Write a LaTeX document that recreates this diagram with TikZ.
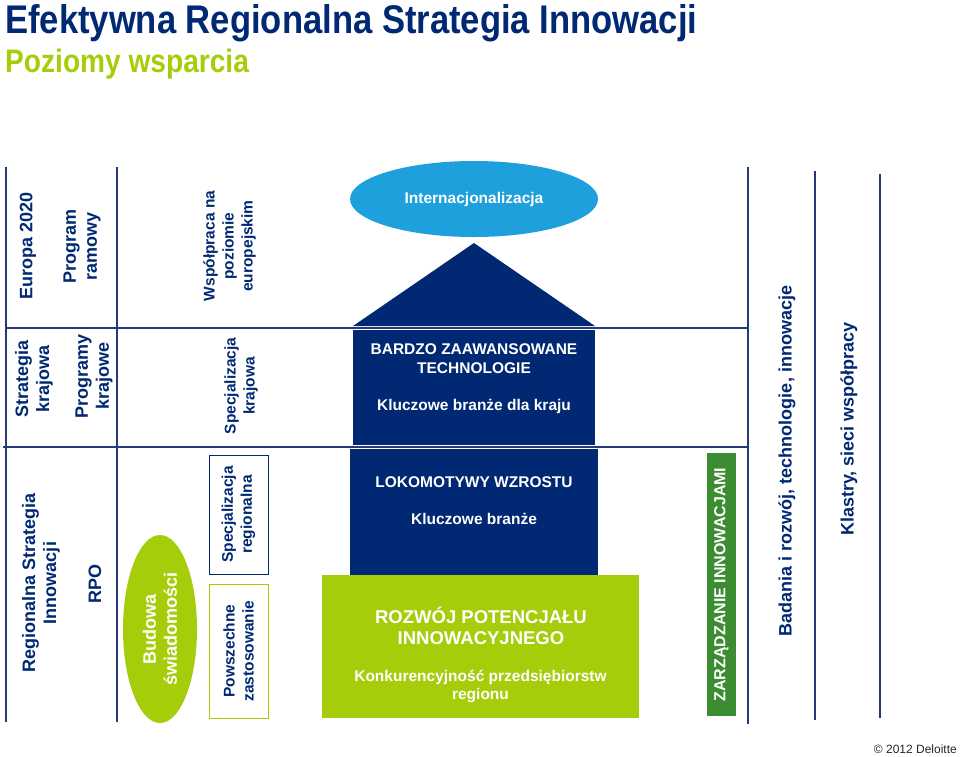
\documentclass[tikz,border=0pt]{standalone}
\usepackage{fontspec}
\setmainfont{Liberation Sans}
\newfontfamily\narrowfont[FakeStretch=0.865]{Liberation Sans}
\usetikzlibrary{shapes.geometric}
\definecolor{navy}{RGB}{0,40,115}
\definecolor{rulecol}{RGB}{38,58,122}
\definecolor{lime}{RGB}{165,205,10}
\definecolor{skyblue}{RGB}{30,160,220}
\definecolor{zgreen}{RGB}{60,140,50}

\begin{document}
\begin{tikzpicture}[x=1pt,y=-1pt]
      \tikzstyle{every node}+=[inner sep=0pt]
      \tikzstyle{vlabel}=[rotate=90,align=center,text=navy,font=\bfseries\fontsize{18}{21}\selectfont]
      \tikzstyle{slabel}=[rotate=90,align=center,text=navy,font=\bfseries\fontsize{15.5}{19}\selectfont]
      \tikzstyle{hlabel}=[align=center,text=white,font=\bfseries\fontsize{15.5}{19}\selectfont]
      \tikzstyle{rule}=[rulecol,line width=1.6pt]
      \useasboundingbox (0,0) rectangle (960,756);
      \node [anchor=base west,text=navy,font=\narrowfont\bfseries\fontsize{40}{44}\selectfont] (title) at (5,33) {Efektywna Regionalna Strategia Innowacji};
      \node [anchor=base west,text=lime,font=\narrowfont\bfseries\fontsize{32.5}{36}\selectfont] (subtitle) at (5,72) {Poziomy wsparcia};
      % house
      \node [ellipse,fill=skyblue,minimum width=248pt,minimum height=76pt,text=white,font=\bfseries\fontsize{15.5}{19}\selectfont] (intl) at (474,199) {Internacjonalizacja};
      \fill [navy] (474,243) -- (353,326) -- (595,326) -- cycle;
      \node [fill=navy,minimum width=242pt,minimum height=115pt] (tech) at (474,387.5) {};
      \node [fill=navy,minimum width=248pt,minimum height=126pt] (loko) at (474,512) {};
      \node [fill=lime,minimum width=317pt,minimum height=143pt] (potencjal) at (480.5,646.5) {};
      \node [hlabel] (techtxt) at (474,358.5) {BARDZO ZAAWANSOWANE\\TECHNOLOGIE};
      \node [hlabel] (krajtxt) at (474,406) {Kluczowe branże dla kraju};
      \node [hlabel] (lokotxt) at (474,482) {LOKOMOTYWY WZROSTU};
      \node [hlabel] (branzetxt) at (474,519) {Kluczowe branże};
      \node [hlabel,font=\bfseries\fontsize{18.5}{20.5}\selectfont] (rozwojtxt) at (481,626) {ROZWÓJ POTENCJAŁU\\INNOWACYJNEGO};
      \node [hlabel,font=\bfseries\fontsize{15.5}{18}\selectfont] (konkurtxt) at (480.5,686) {Konkurencyjność przedsiębiorstw\\regionu};
      % rules
      \draw [rule] (6,167) -- (6,722);
      \draw [rule] (117,167) -- (117,722);
      \draw [rule] (748,167) -- (748,724);
      \draw [rule] (815,171) -- (815,720);
      \draw [rule] (880,174) -- (880,718);
      \draw [rule] (6,328) -- (748,328);
      \draw [rule] (3,447) -- (748,447);
      % left columns
      \node [vlabel] (europa) at (28,246) {Europa 2020};
      \node [vlabel] (ramowy) at (82,246) {Program\\ramowy};
      \node [vlabel] (strkraj) at (34,379) {Strategia\\krajowa};
      \node [vlabel] (progkraj) at (94,376) {Programy\\krajowe};
      \node [vlabel] (rsi) at (41,583) {Regionalna Strategia\\Innowacji};
      \node [vlabel] (rpo) at (95,584) {RPO};
      \node [slabel] (wspolpraca) at (229.5,246) {Współpraca na\\poziomie\\europejskim};
      \node [slabel] (speckraj) at (241,386) {Specjalizacja\\krajowa};
      \node [slabel,draw=navy,line width=1pt,minimum width=119pt,minimum height=59pt] (specreg) at (238.5,514.5) {Specjalizacja\\regionalna};
      \node [slabel,draw=lime,line width=1pt,minimum width=134pt,minimum height=59pt] (powsz) at (238.5,651) {Powszechne\\zastosowanie};
      \node [ellipse,rotate=90,fill=lime,minimum width=188pt,minimum height=74pt,align=center,text=white,font=\bfseries\fontsize{18}{21}\selectfont] (budowa) at (160,629) {Budowa\\świadomości};
      % right columns
      \node [rotate=90,fill=zgreen,minimum width=263pt,minimum height=29pt,text=white,font=\bfseries\fontsize{16}{19}\selectfont] (zarz) at (721.5,584.5) {ZARZĄDZANIE INNOWACJAMI};
      \node [vlabel] (badania) at (787,461) {Badania i rozwój, technologie, innowacje};
      \node [vlabel] (klastry) at (849,429) {Klastry, sieci współpracy};
      \node [anchor=base east,text=black!85,font=\fontsize{12}{14}\selectfont] (copy) at (957,753) {© 2012 Deloitte};
    \end{tikzpicture}
\end{document}
